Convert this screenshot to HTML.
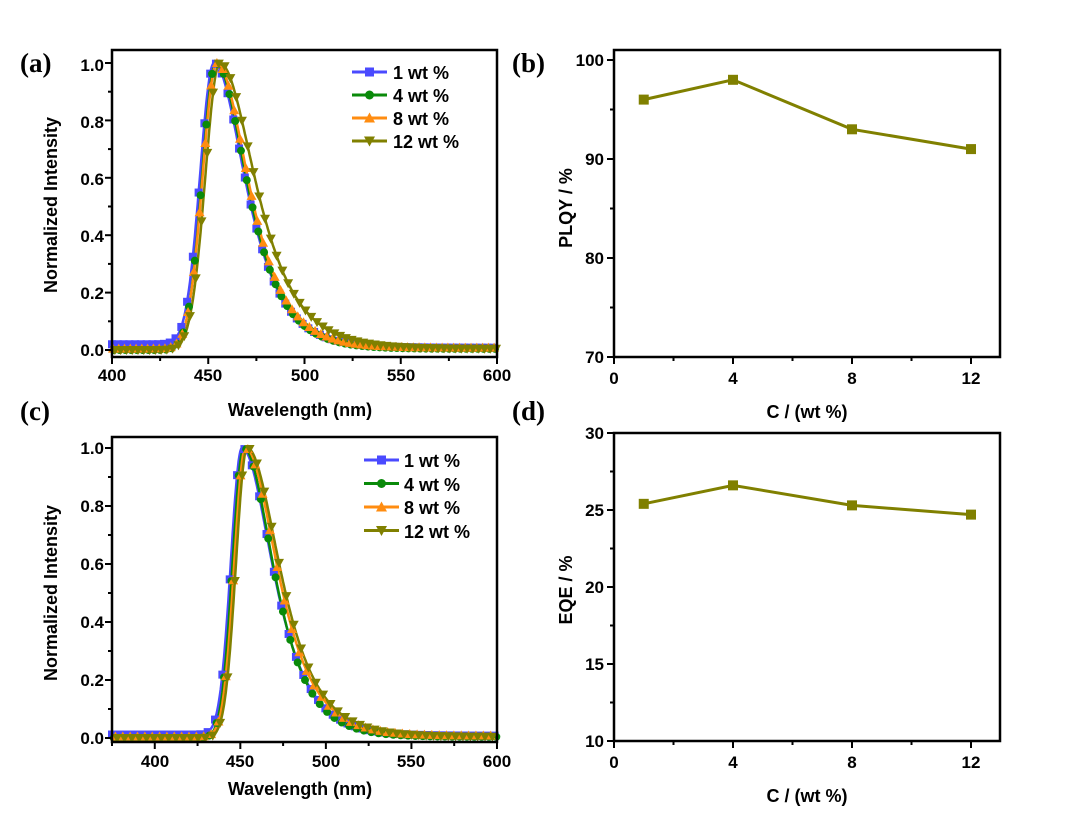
<!DOCTYPE html>
<html><head><meta charset="utf-8"><style>
html,body{margin:0;padding:0;background:#fff;}
svg{display:block;font-family:"Liberation Sans",Arial,sans-serif;font-weight:bold;}
.t{font-size:17px;}
.ax{font-size:18px;}
.pl{font-family:"Liberation Serif",serif;font-size:27px;font-weight:bold;}
.lg{font-size:18px;}
</style></head><body>
<svg id="s" width="1080" height="813" viewBox="0 0 1080 813" xmlns="http://www.w3.org/2000/svg">
<g id="curves"></g>
<rect x="112" y="50" width="385" height="307" fill="none" stroke="#000" stroke-width="2.5"/>
<g class="t" text-anchor="middle">
<text x="112" y="381">400</text><text x="208" y="381">450</text><text x="305" y="381">500</text><text x="401" y="381">550</text><text x="497" y="381">600</text>
</g>
<g class="t" text-anchor="end">
<text x="104" y="356">0.0</text><text x="104" y="299">0.2</text><text x="104" y="242">0.4</text><text x="104" y="185">0.6</text><text x="104" y="128">0.8</text><text x="104" y="71">1.0</text>
</g>
<text class="ax" x="300" y="416" text-anchor="middle">Wavelength (nm)</text>
<text class="ax" transform="translate(57,205) rotate(-90)" text-anchor="middle">Normalized Intensity</text>
<text class="pl" x="20" y="72">(a)</text>

<rect x="112" y="437" width="385" height="305" fill="none" stroke="#000" stroke-width="2.5"/>
<g class="t" text-anchor="middle">
<text x="155" y="767">400</text><text x="240" y="767">450</text><text x="326" y="767">500</text><text x="411" y="767">550</text><text x="497" y="767">600</text>
</g>
<g class="t" text-anchor="end">
<text x="104" y="744">0.0</text><text x="104" y="686">0.2</text><text x="104" y="628">0.4</text><text x="104" y="570">0.6</text><text x="104" y="512">0.8</text><text x="104" y="454">1.0</text>
</g>
<text class="ax" x="300" y="795" text-anchor="middle">Wavelength (nm)</text>
<text class="ax" transform="translate(57,593) rotate(-90)" text-anchor="middle">Normalized Intensity</text>
<text class="pl" x="20" y="420">(c)</text>

<rect x="614" y="50" width="386" height="307" fill="none" stroke="#000" stroke-width="2.5"/>
<g class="t" text-anchor="middle">
<text x="614" y="384">0</text><text x="733" y="384">4</text><text x="852" y="384">8</text><text x="971" y="384">12</text>
</g>
<g class="t" text-anchor="end">
<text x="604" y="363">70</text><text x="604" y="264">80</text><text x="604" y="165">90</text><text x="604" y="66">100</text>
</g>
<text class="ax" x="807" y="418" text-anchor="middle">C / (wt %)</text>
<text class="ax" transform="translate(572,208) rotate(-90)" text-anchor="middle">PLQY / %</text>
<text class="pl" x="512" y="72">(b)</text>

<rect x="614" y="433" width="386" height="308" fill="none" stroke="#000" stroke-width="2.5"/>
<g class="t" text-anchor="middle">
<text x="614" y="768">0</text><text x="733" y="768">4</text><text x="852" y="768">8</text><text x="971" y="768">12</text>
</g>
<g class="t" text-anchor="end">
<text x="604" y="747">10</text><text x="604" y="670">15</text><text x="604" y="593">20</text><text x="604" y="516">25</text><text x="604" y="439">30</text>
</g>
<text class="ax" x="807" y="802" text-anchor="middle">C / (wt %)</text>
<text class="ax" transform="translate(572,590) rotate(-90)" text-anchor="middle">EQE / %</text>
<text class="pl" x="512" y="420">(d)</text>

<g class="lg">
<text x="393" y="79">1 wt %</text><text x="393" y="102">4 wt %</text><text x="393" y="125">8 wt %</text><text x="393" y="148">12 wt %</text>
<text x="404" y="467">1 wt %</text><text x="404" y="491">4 wt %</text><text x="404" y="514">8 wt %</text><text x="404" y="538">12 wt %</text>
</g>
<g id="ticks" stroke="#000" stroke-width="2"></g>
</svg>
<script>
var NS="http://www.w3.org/2000/svg",G=document.getElementById("curves"),T=document.getElementById("ticks");
function el(n,a,p){var e=document.createElementNS(NS,n);for(var k in a)e.setAttribute(k,a[k]);(p||G).appendChild(e);return e;}
var cols=["#4a4aff","#0a8a0a","#ff8c10","#808000"];
function marker(t,x,y,c,s){
 if(t==0)el("rect",{x:x-s,y:y-s,width:2*s,height:2*s,fill:c});
 else if(t==1)el("circle",{cx:x,cy:y,r:s,fill:c});
 else if(t==2)el("polygon",{points:(x-s-1)+","+(y+s)+" "+(x+s+1)+","+(y+s)+" "+x+","+(y-s-1),fill:c});
 else el("polygon",{points:(x-s-1)+","+(y-s)+" "+(x+s+1)+","+(y-s)+" "+x+","+(y+s+1),fill:c});
}
function sech(v){return 2/(Math.exp(v)+Math.exp(-v));}
function spec(l,p,sl,tau,base){var d=l-p;if(d<0){var f=Math.exp(-d*d/(2*sl*sl));return f+base*(1-f);}var f=sech(d/tau);return f+base*f*0+0.008*(1-f)*(base>0?1:0.5);}
function panel(x0,x1,l0,l1,y0,y1,params,step,ms){
 var sx=(x1-x0)/(l1-l0),sy=y0-y1;
 params.forEach(function(pr,i){
  var pts=[];for(var l=l0;l<=l1;l+=0.5){pts.push((x0+(l-l0)*sx).toFixed(1)+","+(y0-sy*spec(l,pr[0],pr[1],pr[2],pr[3])).toFixed(1));}
  el("polyline",{points:pts.join(" "),fill:"none",stroke:cols[i],"stroke-width":2.5});
 });
 params.forEach(function(pr,i){
  for(var l=l0+pr[4];l<=l1;l+=step){marker(i,x0+(l-l0)*sx,y0-sy*spec(l,pr[0],pr[1],pr[2],pr[3]),cols[i],ms);}
 });
}
panel(112,497,400,600,350,63,[[453,7.2,14.5,0.02,0],[454,7.2,14.3,0.0,1],[454.5,7.4,14.5,0.005,0.5],[456,7.5,16.5,0.0,1.5]],3,4);
panel(112,497,375,600,738,448,[[451,6.5,16,0.012,0],[452,6.5,15.5,0.0,1],[453,6.5,16.5,0.005,2],[454,6.5,17,0.0,3]],4.3,4);
function leg(x,y,i){el("line",{x1:x,y1:y,x2:x+35,y2:y,stroke:cols[i],"stroke-width":3});marker(i,x+17.5,y,cols[i],4.5);}
for(var i=0;i<4;i++){leg(352,72+i*23,i);leg(364,460+i*23.5,i);}
function pt(xs,ys,x0,sxu,y0,yv,yu){var p=[];xs.forEach(function(c,j){p.push([x0+c*sxu,y0-(ys[j]-yv)*yu]);});
 el("polyline",{points:p.map(function(q){return q.join(",")}).join(" "),fill:"none",stroke:"#808000","stroke-width":3});
 p.forEach(function(q){marker(0,q[0],q[1],"#808000",5);});}
pt([1,4,8,12],[96,98,93,91],614,29.75,357,70,9.9);
pt([1,4,8,12],[25.4,26.6,25.3,24.7],614,29.75,741,10,15.4);
function tk(x1,y1,x2,y2){el("line",{x1:x1,y1:y1,x2:x2,y2:y2},T);}
for(var l=400;l<=600;l+=25){var x=112+(l-400)*1.925;tk(x,357,x,l%50?361:364);}
for(var v=0;v<=1.01;v+=0.1){var y=350-v*287;tk(112,y,Math.round(v*10)%2?108:105,y);}
for(var l=375;l<=600;l+=25){var x=112+(l-375)*1.711;tk(x,742,x,l%50?746:749);}
for(var v=0;v<=1.01;v+=0.1){var y=738-v*290;tk(112,y,Math.round(v*10)%2?108:105,y);}
for(var c=0;c<=12;c+=2){var x=614+c*29.75;tk(x,357,x,c%4?361:364);tk(x,741,x,c%4?745:748);}
for(var v=70;v<=100;v+=5){var y=357-(v-70)*9.9;tk(614,y,v%10?610:607,y);}
for(var v=10;v<=30;v+=2.5){var y=741-(v-10)*15.4;tk(614,y,v%5?610:607,y);}
</script>
</body></html>
